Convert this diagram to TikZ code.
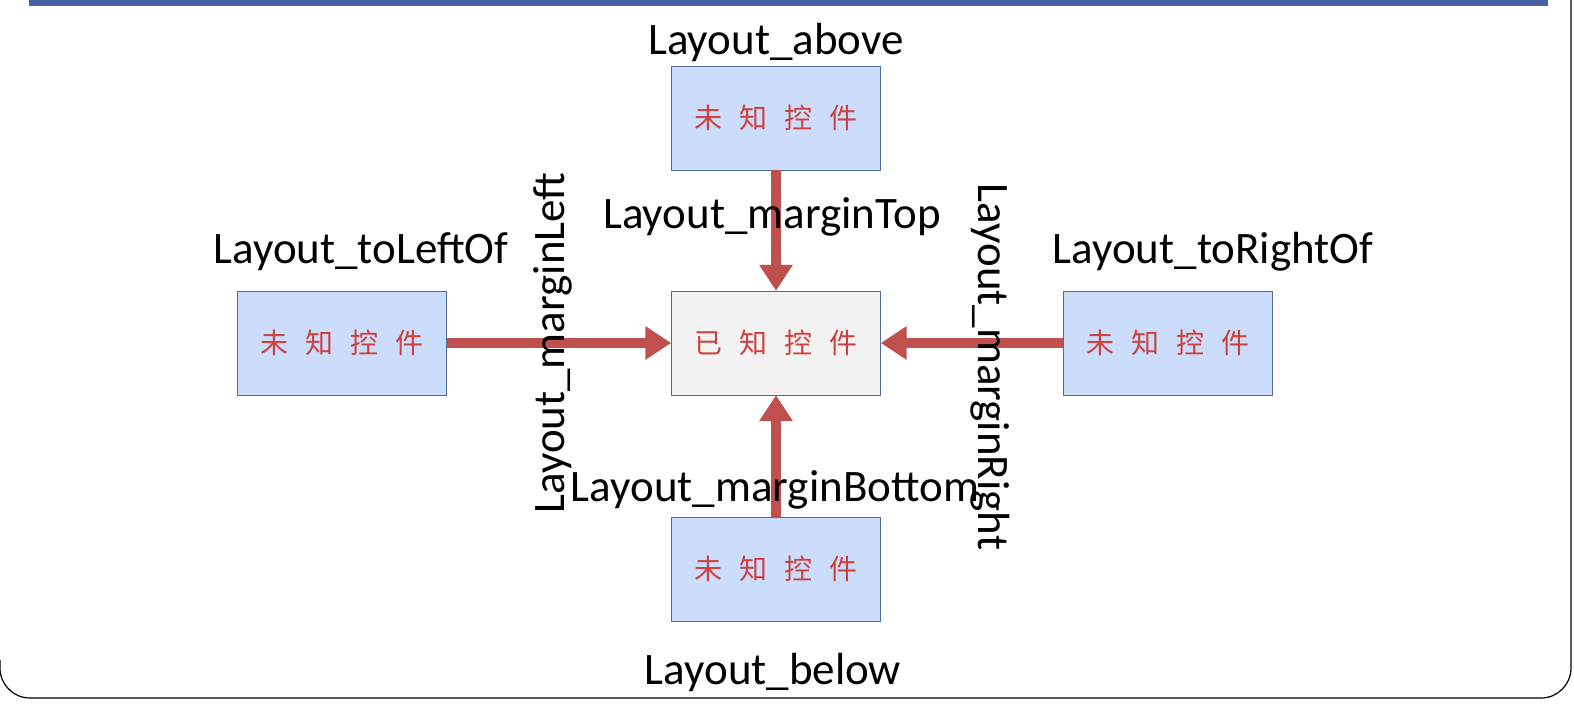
\documentclass[tikz,border=0pt]{standalone}
\usepackage{fontspec}
\setmainfont{Carlito}
\newfontfamily\cjk{Noto Sans CJK SC}
\usetikzlibrary{arrows.meta}
\definecolor{arr}{HTML}{C0504D}
\definecolor{bfill}{HTML}{CCDDFB}
\definecolor{bline}{HTML}{4F6A9A}
\tikzset{
  unk/.style={draw=bline,fill=bfill,minimum width=209pt,minimum height=104pt,inner sep=0pt,font=\cjk\fontsize{28}{30}\selectfont,text=arr!80!red},
  knw/.style={unk,fill=gray!10},
  lab/.style={font=\fontsize{45}{48}\selectfont,inner sep=0pt},
  conn/.style={draw=arr,line width=10pt,-{Triangle[length=26pt,width=32pt]}}
}
\begin{document}
\begin{tikzpicture}[x=1pt,y=-1pt]
\useasboundingbox (0,0) rectangle (1574,710);
\fill[white] (0,0) rectangle (1574,710);
\draw[line width=1.2pt] (1571,0) -- (1571,668) arc[start angle=0,end angle=90,radius=30] -- (30,698) arc[start angle=90,end angle=180,radius=30] -- (0,660);
\fill[bline!90!blue] (29,0) rectangle (1548,6);
\node[unk] (top) at (776,118) {未\hspace{0.6em}知\hspace{0.6em}控\hspace{0.6em}件};
\node[knw] (c) at (776,343) {已\hspace{0.6em}知\hspace{0.6em}控\hspace{0.6em}件};
\node[unk] (l) at (342,343) {未\hspace{0.6em}知\hspace{0.6em}控\hspace{0.6em}件};
\node[unk] (r) at (1168,343) {未\hspace{0.6em}知\hspace{0.6em}控\hspace{0.6em}件};
\node[unk] (b) at (776,569) {未\hspace{0.6em}知\hspace{0.6em}控\hspace{0.6em}件};
\draw[conn] (top) -- (c);
\draw[conn] (l) -- (c);
\draw[conn] (r) -- (c);
\draw[conn] (b) -- (c);
\node[lab] (la) at (776,42) {Layout\_above};
\node[lab] (lt) at (772,217) {Layout\_marginTop};
\node[lab] (lleft) at (361,252) {Layout\_toLeftOf};
\node[lab] (lright) at (1213,252) {Layout\_toRightOf};
\node[lab] (lbm) at (775,490) {Layout\_marginBottom};
\node[lab] (lbl) at (773,672) {Layout\_below};
\node[lab,rotate=90] (lml) at (553,343) {Layout\_marginLeft};
\node[lab,rotate=-90] (lmr) at (990,367) {Layout\_marginRight};
\end{tikzpicture}
\end{document}
